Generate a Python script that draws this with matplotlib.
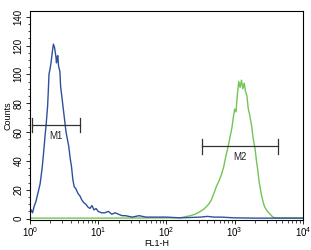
import matplotlib
matplotlib.use("Agg")
import matplotlib.pyplot as plt
import numpy as np
from matplotlib.ticker import LogLocator, MultipleLocator

plt.rcParams["font.family"] = ["Liberation Sans", "DejaVu Sans"]

# log10(FL1-H) and counts
blue_log = [0.00, 0.02, 0.04, 0.06, 0.09, 0.12, 0.15, 0.18, 0.20, 0.22, 0.24, 0.26,
            0.27, 0.28, 0.30, 0.31, 0.32, 0.33, 0.345, 0.36, 0.37, 0.38, 0.39, 0.40,
            0.41, 0.42, 0.44, 0.45, 0.47, 0.49, 0.51, 0.53, 0.55, 0.57, 0.59, 0.61,
            0.63, 0.65, 0.67, 0.69, 0.71, 0.73, 0.76, 0.79, 0.82, 0.85, 0.88, 0.91,
            0.94, 0.97, 1.00, 1.05, 1.10, 1.15, 1.20, 1.25, 1.30, 1.35, 1.40, 1.50,
            1.60, 1.70, 1.80, 2.00, 2.20, 2.50, 2.60, 2.70, 2.80, 3.00, 3.30, 4.00]
blue_counts = [3, 6, 4, 8, 12, 18, 24, 35, 45, 56, 66, 78,
               88, 100, 105, 108, 112, 116, 121, 119, 116, 113, 108, 112,
               113, 106, 102, 92, 84, 76, 68, 60, 55, 50, 42, 36,
               27, 22, 21, 19, 17, 16, 13, 11, 10, 8, 7, 9,
               6, 7, 5, 4, 4, 5, 3, 4, 3, 2, 2, 1,
               2, 1, 1, 1, 0.5, 1, 1.5, 1, 1, 0.5, 0.3, 0.3]

green_log = [0.00, 1.00, 2.20, 2.25, 2.35, 2.42, 2.50, 2.56, 2.62, 2.66, 2.70, 2.73,
             2.77, 2.81, 2.84, 2.87, 2.90, 2.93, 2.96, 2.98, 3.00, 3.02, 3.04, 3.06,
             3.08, 3.10, 3.12, 3.14, 3.16, 3.18, 3.20, 3.22, 3.25, 3.27, 3.30, 3.32,
             3.34, 3.36, 3.39, 3.42, 3.44, 3.48, 3.52, 3.56, 3.60, 4.00]
green_counts = [0.3, 0.3, 0.5, 1, 2, 3, 5, 7, 10, 13, 18, 22,
                26, 31, 36, 43, 49, 56, 63, 70, 76, 74, 86, 95,
                91, 96, 90, 94, 88, 85, 76, 72, 64, 56, 48, 40,
                33, 25, 17, 11, 8, 5, 3, 1, 0.5, 0.3]

markers = ["M1", "M2"]
marker_lo = [0.025, 2.52]
marker_hi = [0.73, 3.63]
marker_level = [65, 50]

fig = plt.figure(figsize=(3.11, 2.5), dpi=100)
ax = fig.add_axes([0.096, 0.12, 0.878, 0.836])

ax.plot(10 ** np.array(green_log), green_counts, color="#72c455", lw=1.0)
ax.plot(10 ** np.array(blue_log), blue_counts, color="#2f4f9e", lw=1.0)

for name, lo, hi, lev in zip(markers, marker_lo, marker_hi, marker_level):
    ax.plot([10 ** lo, 10 ** hi], [lev, lev], color="#333333", lw=0.9)
    for end in (lo, hi):
        ax.plot([10 ** end, 10 ** end], [lev - 5, lev + 5], color="#333333", lw=0.9)
    mid = 10 ** ((lo + hi) / 2)
    ax.text(mid, lev - 4, name, ha="center", va="top", fontsize=7, color="#222222")

ax.set_xscale("log")
ax.set_xlim(1, 1e4)
ax.set_ylim(-1, 144)
ax.yaxis.set_major_locator(MultipleLocator(20))
ax.yaxis.set_minor_locator(MultipleLocator(5))
ax.xaxis.set_major_locator(LogLocator(base=10))
ax.xaxis.set_minor_locator(LogLocator(base=10, subs=np.arange(2, 10)))
ax.tick_params(labelsize=7, length=3, width=0.6, pad=1.5)
ax.tick_params(axis="x", pad=0.5)
ax.tick_params(which="minor", length=1.8, width=0.5)
for lbl in ax.get_yticklabels():
    lbl.set_rotation(90)
    lbl.set_va("center")
for s in ax.spines.values():
    s.set_linewidth(0.8)

ax.set_ylabel("Counts", fontsize=6.5, labelpad=1)
ax.set_xlabel("FL1-H", fontsize=6.5, va="center")
ax.xaxis.set_label_coords(0.465, -0.112)

fig.savefig("out.png", dpi=100)
